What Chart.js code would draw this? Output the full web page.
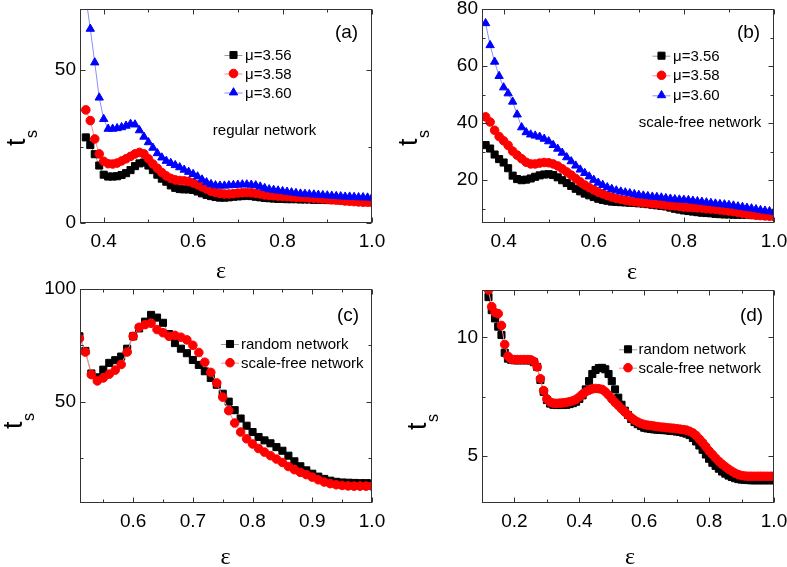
<!DOCTYPE html>
<html>
<head>
<meta charset="utf-8">
<script src="https://cdn.jsdelivr.net/npm/chart.js@4/dist/chart.umd.min.js"></script>
<style>
  body { margin: 0; background: #fff; width: 787px; height: 567px; position: relative; overflow: hidden; }
  canvas { position: absolute; }
</style>
</head>
<body>
<canvas id="panelA" width="393" height="285" style="left:0;top:0"></canvas>
<canvas id="panelB" width="394" height="285" style="left:393px;top:0"></canvas>
<canvas id="panelC" width="393" height="302" style="left:0;top:265px"></canvas>
<canvas id="panelD" width="394" height="302" style="left:393px;top:265px"></canvas>
<script>
// coupling strength values (x) for each panel
const epsAB = [0.36,0.37,0.38,0.39,0.40,0.41,0.42,0.43,0.44,0.45,0.46,0.47,0.48,0.49,0.50,0.51,0.52,0.53,0.54,0.55,
  0.56,0.57,0.58,0.59,0.60,0.61,0.62,0.63,0.64,0.65,0.66,0.67,0.68,0.69,0.70,0.71,0.72,0.73,0.74,0.75,
  0.76,0.77,0.78,0.79,0.80,0.81,0.82,0.83,0.84,0.85,0.86,0.87,0.88,0.89,0.90,0.91,0.92,0.93,0.94,0.95,
  0.96,0.97,0.98,0.99,1.00];
const epsC = [0.51,0.52,0.53,0.54,0.55,0.56,0.57,0.58,0.59,0.60,0.61,0.62,0.63,0.64,0.65,0.66,0.67,0.68,0.69,0.70,
  0.71,0.72,0.73,0.74,0.75,0.76,0.77,0.78,0.79,0.80,0.81,0.82,0.83,0.84,0.85,0.86,0.87,0.88,0.89,0.90,
  0.91,0.92,0.93,0.94,0.95,0.96,0.97,0.98,0.99,1.00];
const epsD = [0.12,0.13,0.14,0.15,0.16,0.17,0.18,0.19,0.20,0.21,0.22,0.23,0.24,0.25,0.26,0.27,0.28,0.29,0.30,0.31,
  0.32,0.33,0.34,0.35,0.36,0.37,0.38,0.39,0.40,0.41,0.42,0.43,0.44,0.45,0.46,0.47,0.48,0.49,0.50,0.51,
  0.52,0.53,0.54,0.55,0.56,0.57,0.58,0.59,0.60,0.61,0.62,0.63,0.64,0.65,0.66,0.67,0.68,0.69,0.70,0.71,
  0.72,0.73,0.74,0.75,0.76,0.77,0.78,0.79,0.80,0.81,0.82,0.83,0.84,0.85,0.86,0.87,0.88,0.89,0.90,0.91,
  0.92,0.93,0.94,0.95,0.96,0.97,0.98,0.99,1.00];

// (a) regular network
const regMu356 = [28,25.5,22.5,18.8,15.8,15.2,15.2,15.3,15.7,16.3, 17.3,18.6,19.5,19.8,18.8,17.3,15.8,14.5,13.5,12.3,
  11.5,11.1,11.0,11.0,10.8,10.3,9.7,9.2,8.8,8.5, 8.3,8.3,8.4,8.6,8.7,8.8,8.9,8.8,8.6,8.4,
  8.2,8.1,8.0,7.9,7.9,7.8,7.8,7.8,7.7,7.7, 7.7,7.6,7.6,7.6,7.5,7.5,7.5,7.4,7.4,7.4, 7.3,7.3,7.3,7.2,7.2];
const regMu358 = [37,33.5,27.5,22.6,20.2,19.4,19.3,19.6,20.3,21, 21.8,22.6,23.1,22.6,21,19.3,17.9,16.5,15.4,14.6,
  14.1,13.9,13.8,13.6,13.1,12.5,11.8,11.1,10.4,10.0, 9.7,9.5,9.5,9.6,9.8,9.9,10.0,9.9,9.7,9.5,
  9.2,9.0,8.9,8.8,8.7,8.6,8.5,8.4,8.4,8.3, 8.2,8.1,8.0,7.9,7.8,7.6,7.5,7.4,7.2,7.1, 7.0,6.9,6.8,6.8,6.7];
const regMu360 = [74,63.5,52.5,41,34,30.8,30.8,31,31.3,31.8, 32.4,32.2,30.3,28.2,26.4,24.6,22.8,21.4,20.3,19.6,
  18.9,18.2,17.4,16.7,16.0,15.2,14.2,13.3,12.7,12.3, 12.2,12.2,12.3,12.4,12.5,12.6,12.6,12.5,12.3,11.9,
  11.4,11.0,10.8,10.6,10.4,10.2,10.0,9.8,9.6,9.5, 9.4,9.3,9.2,9.1,9.0,8.9,8.8,8.7,8.6,8.6, 8.5,8.4,8.4,8.3,8.3];

// (b) scale-free network
const sfMu356 = [32.3,31.1,29,27.4,26.2,24.2,21.6,20.4,20,20.2, 20.6,21.2,21.7,22,22.1,21.8,21,20,19,18,
  17,16.1,15.3,14.7,14.1,13.5,13.1,12.8,12.5,12.4, 12.3,12.2,12.1,12,11.9,11.8,11.6,11.4,11.2,11,
  10.8,10.4,10,9.7,9.4,9.2,9,8.8,8.6,8.5, 8.4,8.2,8.1,8,8,7.9,7.9,7.9,7.8,7.8, 7.8,7.7,7.7,7.7,7.7];
const sfMu358 = [42.2,40.4,37.5,35.3,33.8,32.2,30.2,28.8,27.5,26.3, 25.7,25.7,26,26.2,26.1,25.7,25,24,22.9,21.8,
  20.6,19.4,18.3,17.4,16.6,15.8,15.2,14.6,14.1,13.6, 13.3,13,12.7,12.5,12.3,12.1,12,11.8,11.7,11.5,
  11.3,11.1,11,10.8,10.6,10.5,10.4,10.3,10.2,10, 9.9,9.8,9.6,9.4,9.2,9,8.7,8.4,8.1,7.9, 7.7,7.6,7.5,7.4,7.3];
const sfMu360 = [75,67.3,61.5,56.5,52.5,50.4,47.5,43,38.5,36.8, 36,35.6,35.2,34.5,33.6,32.3,31,29.6,28,26.6,
  25.1,23.7,22.5,21.3,20.1,19.1,18.3,17.5,16.9,16.4, 16,15.7,15.4,15.1,14.8,14.6,14.4,14.2,14.1,13.9,
  13.7,13.5,13.3,13.2,13.1,13,12.8,12.6,12.4,12.2, 12,11.8,11.6,11.5,11.3,11.1,10.8,10.6,10.3,10.1, 9.8,9.5,9.3,9.1,8.9];

// (c) random vs scale-free
const cRandom = [79,72.5,62.5,60.8,64.2,67.2,68.4,70,73.5,79, 82.5,85.5,88.5,87.3,85,80,76,73.5,71.5,68.5,
  66.3,63.5,60.5,57.5,53.5,50,46.2,42.5,39.3,36.5, 34.3,32.8,31.5,29.8,28.2,26,23.5,21.3,19.5,18,
  16.7,15.7,14.9,14.4,14.1,14,13.9,13.8,13.8,13.7];
const cScaleFree = [78,72,62,59.2,60.5,62.2,64,66.5,72,79, 83,84.2,84.8,82,80.6,79,79.4,78.6,77.4,75,
  71.8,67.5,63,58.3,52,46,40.5,36.5,33.5,31.2, 29.2,27.6,26,24.5,23,21.2,19.8,18.6,17.6,16.5,
  15.3,14.3,13.6,13.1,12.8,12.6,12.5,12.5,12.5,12.5];

// (d) random vs scale-free
const dRandom = [11.7,11.15,10.8,10.45,10.1,9.35,9.1,9.05,9.03,9.03, 9.03,9.03,9.03,9.02,8.95,8.75,8.2,7.7,7.35,7.2,
  7.15,7.14,7.14,7.14,7.15,7.18,7.22,7.28,7.4,7.55, 7.8,8.15,8.45,8.62,8.7,8.71,8.65,8.45,8.15,7.8,
  7.45,7.15,6.9,6.72,6.55,6.42,6.33,6.25,6.18,6.15, 6.13,6.11,6.1,6.09,6.08,6.07,6.05,6.04,6.02,6.0,
  5.97,5.93,5.87,5.75,5.6,5.43,5.25,5.05,4.87,4.7, 4.57,4.45,4.33,4.24,4.16,4.1,4.05,4.01,3.99,3.98,
  3.97,3.96,3.96,3.96,3.96,3.96,3.96,3.96,3.96];
const dScaleFree = [12.0,11.3,11.05,11.0,10.5,9.7,9.2,9.08,9.06,9.06, 9.06,9.06,9.06,9.05,8.98,8.75,8.25,7.75,7.4,7.26,
  7.22,7.21,7.22,7.23,7.25,7.28,7.32,7.38,7.48,7.6, 7.7,7.77,7.82,7.84,7.83,7.8,7.7,7.56,7.4,7.25,
  7.12,6.98,6.85,6.72,6.6,6.5,6.42,6.36,6.32,6.29, 6.27,6.25,6.23,6.21,6.2,6.18,6.17,6.16,6.14,6.12,
  6.1,6.08,6.03,5.96,5.85,5.7,5.55,5.38,5.2,5.05, 4.9,4.76,4.64,4.53,4.43,4.34,4.26,4.2,4.16,4.14,
  4.13,4.13,4.13,4.13,4.13,4.13,4.13,4.13,4.13];

// tick values
const xTicksAB = [0.4, 0.6, 0.8, 1.0], xMinorAB = [0.5, 0.7, 0.9];
const yTicksA = [0, 50], yMinorA = [25];
const yTicksB = [20, 40, 60, 80], yMinorB = [10, 30, 50, 70];
const xTicksC = [0.6, 0.7, 0.8, 0.9, 1.0], xMinorC = [0.55, 0.65, 0.75, 0.85, 0.95];
const yTicksC = [50, 100], yMinorC = [25, 75];
const xTicksD = [0.2, 0.4, 0.6, 0.8, 1.0], xMinorD = [0.3, 0.5, 0.7, 0.9];
const yTicksD = [5, 10], yMinorD = [7.5];

const SANS = "'Liberation Sans', Arial, sans-serif";
const SERIF = "'Liberation Serif', 'DejaVu Serif', serif";

const black = { color: '#000000', line: '#9a9a9a', style: 'rect', radius: 5 };
const red = { color: '#ff0000', line: '#ff8c8c', style: 'circle', radius: 4.3 };
const blue = { color: '#0000ff', line: '#8c8cff', style: 'triangle', radius: 4.8 };

// frame, inward ticks, axis titles, legend and notes
const framePlugin = {
    id: 'frame',
    afterDraw(chart, args, o) {
        const { ctx, chartArea: a, scales: { x, y } } = chart;
        const ox = o.offset[0], oy = o.offset[1];
        const l = a.left + 0.5, r = a.right - 0.5, t = a.top + 0.5, b = a.bottom - 0.5;
        ctx.save();
        ctx.strokeStyle = '#333';
        ctx.lineWidth = 1;
        ctx.strokeRect(l, t, r - l, b - t);
        ctx.beginPath();
        const xt = (v, len) => {
            const p = Math.round(x.getPixelForValue(v)) + 0.5;
            ctx.moveTo(p, b); ctx.lineTo(p, b - len);
            ctx.moveTo(p, t); ctx.lineTo(p, t + len);
        };
        const yt = (v, len) => {
            const p = Math.round(y.getPixelForValue(v)) + 0.5;
            ctx.moveTo(l, p); ctx.lineTo(l + len, p);
            ctx.moveTo(r, p); ctx.lineTo(r - len, p);
        };
        o.xTicks.forEach(v => xt(v, 5));
        o.xMinor.forEach(v => xt(v, 3));
        o.yTicks.forEach(v => yt(v, 5));
        o.yMinor.forEach(v => yt(v, 3));
        ctx.stroke();

        ctx.fillStyle = '#000';
        // y title t_s (rotated)
        ctx.save();
        ctx.translate(o.tTitle[0] - ox, o.tTitle[1] - oy);
        ctx.rotate(-Math.PI / 2);
        ctx.textAlign = 'left';
        ctx.textBaseline = 'alphabetic';
        ctx.font = '27px ' + SANS;
        ctx.fillText('t', 0, 0);
        ctx.font = '16px ' + SANS;
        ctx.fillText('s', 8, 12);
        ctx.restore();

        // x title epsilon
        ctx.font = '24px ' + SERIF;
        ctx.textAlign = 'center';
        ctx.textBaseline = 'middle';
        ctx.fillText('ε', o.eTitle[0] - ox, o.eTitle[1] - oy);

        // panel letter
        ctx.textBaseline = 'alphabetic';
        ctx.font = '19px ' + SANS;
        ctx.fillText(o.letter[0], o.letter[1] - ox, o.letter[2] - oy);

        // note
        if (o.note) {
            ctx.font = '15px ' + SANS;
            ctx.fillText(o.note[0], o.note[1] - ox, o.note[2] - oy);
        }

        // legend
        ctx.font = '15px ' + SANS;
        ctx.textAlign = 'left';
        chart.data.datasets.forEach((ds, i) => {
            const mx = o.legend.x - ox, my = o.legend.rows[i] - oy;
            ctx.strokeStyle = ds.borderColor;
            ctx.beginPath();
            ctx.moveTo(mx - 9, my + 0.5); ctx.lineTo(mx + 9, my + 0.5);
            ctx.stroke();
            ctx.fillStyle = ds.pointBackgroundColor;
            ctx.strokeStyle = ds.pointBorderColor;
            Chart.helpers.drawPoint(ctx, { pointStyle: ds.pointStyle, radius: ds.pointRadius, rotation: 0, borderWidth: 1 }, mx, my);
            ctx.fillStyle = '#000';
            ctx.fillText(ds.label, o.legend.tx - ox, my + 5);
        });
        ctx.restore();
    }
};

function makePanel(id, p) {
    const canvas = document.getElementById(id);
    const W = canvas.width, H = canvas.height;
    const ox = p.offset[0], oy = p.offset[1];
    // plot box in page coordinates -> canvas coordinates
    const L = p.area[0] - ox, T = p.area[1] - oy, R = p.area[2] - ox, B = p.area[3] - oy;
    const tickFont = { family: SANS, size: 19 };
    new Chart(canvas, {
        type: 'line',
        data: {
            datasets: p.series.map((s, i) => ({
                label: s.label,
                data: p.eps.map((e, j) => ({ x: e, y: s.values[j] })),
                borderColor: s.look.line,
                borderWidth: 1,
                pointStyle: s.look.style,
                pointRadius: s.look.radius,
                pointBackgroundColor: s.look.color,
                pointBorderColor: s.look.color,
                pointBorderWidth: 1,
                order: p.series.length - i
            }))
        },
        options: {
            responsive: false,
            animation: false,
            events: [],
            layout: { padding: { top: T, right: W - R, left: 0, bottom: 0 } },
            plugins: { legend: { display: false }, tooltip: { enabled: false }, frame: p },
            scales: {
                x: {
                    type: 'linear', min: p.xRange[0], max: p.xRange[1],
                    grid: { display: false, drawTicks: false }, border: { display: false },
                    afterBuildTicks: s => { s.ticks = p.xTicks.map(v => ({ value: v })); },
                    afterFit: s => { s.height = H - B; s.paddingLeft = 0; s.paddingRight = 0; },
                    ticks: { font: tickFont, color: '#000', padding: 7, maxRotation: 0, autoSkip: false,
                             callback: v => v.toFixed(1) }
                },
                y: {
                    min: p.yRange[0], max: p.yRange[1],
                    grid: { display: false, drawTicks: false }, border: { display: false },
                    afterBuildTicks: s => { s.ticks = p.yTicks.map(v => ({ value: v })); },
                    afterFit: s => { s.width = L; s.paddingTop = 0; s.paddingBottom = 0; },
                    ticks: { font: tickFont, color: '#000', padding: 4, autoSkip: false,
                             callback: v => String(v) }
                }
            }
        },
        plugins: [framePlugin]
    });
}

makePanel('panelA', {
    offset: [0, 0], area: [80, 9, 372, 223],
    eps: epsAB, xRange: [0.347, 1.0], yRange: [0, 70],
    xTicks: xTicksAB, xMinor: xMinorAB, yTicks: yTicksA, yMinor: yMinorA,
    series: [
        { label: 'μ=3.56', values: regMu356, look: black },
        { label: 'μ=3.58', values: regMu358, look: red },
        { label: 'μ=3.60', values: regMu360, look: blue }
    ],
    legend: { x: 233.5, tx: 245, rows: [55, 73.5, 92.5] },
    letter: ['(a)', 346.5, 38], note: ['regular network', 264.5, 135],
    tTitle: [25, 146], eTitle: [221, 272]
});

makePanel('panelB', {
    offset: [393, 0], area: [482, 9, 774, 223],
    eps: epsAB, xRange: [0.352, 1.0], yRange: [5, 80],
    xTicks: xTicksAB, xMinor: xMinorAB, yTicks: yTicksB, yMinor: yMinorB,
    series: [
        { label: 'μ=3.56', values: sfMu356, look: black },
        { label: 'μ=3.58', values: sfMu358, look: red },
        { label: 'μ=3.60', values: sfMu360, look: blue }
    ],
    legend: { x: 661.5, tx: 673, rows: [55.7, 75.3, 95.3] },
    letter: ['(b)', 748.5, 38], note: ['scale-free network', 700, 127],
    tTitle: [417, 146], eTitle: [632, 273]
});

makePanel('panelC', {
    offset: [0, 265], area: [80, 289, 372, 503],
    eps: epsC, xRange: [0.511, 1.0], yRange: [5, 100],
    xTicks: xTicksC, xMinor: xMinorC, yTicks: yTicksC, yMinor: yMinorC,
    series: [
        { label: 'random network', values: cRandom, look: black },
        { label: 'scale-free network', values: cScaleFree, look: red }
    ],
    legend: { x: 230, tx: 241, rows: [344, 362.7] },
    letter: ['(c)', 348, 321], note: null,
    tTitle: [22, 429], eTitle: [225.5, 558]
});

makePanel('panelD', {
    offset: [393, 265], area: [482, 290, 774, 503],
    eps: epsD, xRange: [0.1, 1.0], yRange: [3, 12],
    xTicks: xTicksD, xMinor: xMinorD, yTicks: yTicksD, yMinor: yMinorD,
    series: [
        { label: 'random network', values: dRandom, look: black },
        { label: 'scale-free network', values: dScaleFree, look: red }
    ],
    legend: { x: 628, tx: 638.5, rows: [349.3, 367.7] },
    letter: ['(d)', 751.5, 321], note: null,
    tTitle: [426, 430], eTitle: [630, 558]
});
</script>
</body>
</html>
